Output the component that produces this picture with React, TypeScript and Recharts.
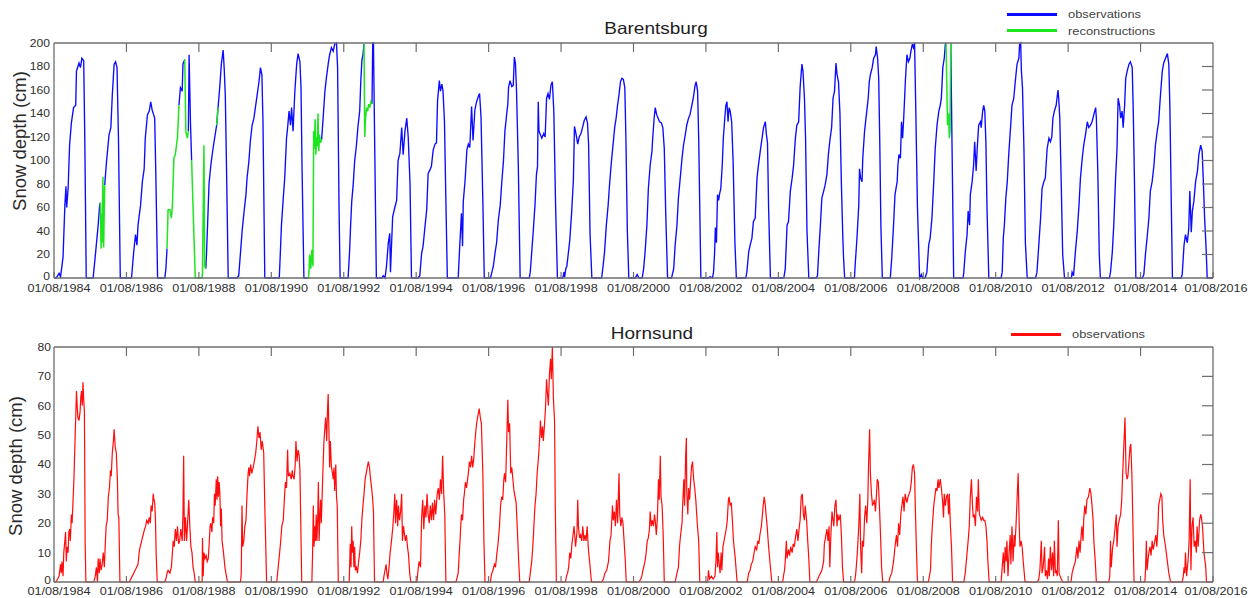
import { LineChart, Line, XAxis, YAxis } from 'recharts';

type Pt = [number, number | null];

// x = years since 01/08/1984
const tickYears = [0, 2, 4, 6, 8, 10, 12, 14, 16, 18, 20, 22, 24, 26, 28, 30, 32];
const tickLabels = [
  '01/08/1984', '01/08/1986', '01/08/1988', '01/08/1990', '01/08/1992', '01/08/1994',
  '01/08/1996', '01/08/1998', '01/08/2000', '01/08/2002', '01/08/2004', '01/08/2006',
  '01/08/2008', '01/08/2010', '01/08/2012', '01/08/2014', '01/08/2016',
];
const barentsburgTicks = [0, 20, 40, 60, 80, 100, 120, 140, 160, 180, 200];
const hornsundTicks = [0, 10, 20, 30, 40, 50, 60, 70, 80];

// snow depth (cm), null = gap in the observations
const barentsburgObs: Pt[] = [
  [0, 0], [0.06, 0], [0.14, 4], [0.18, 1], [0.21, 8], [0.25, 18], [0.3, 62], [0.33, 78], [0.35, 60], [0.39, 76], [0.43, 113], [0.48, 132], [0.54, 145], [0.6, 147], [0.62, 176], [0.69, 183], [0.73, 179], [0.77, 187], [0.82, 185], [0.85, 119], [0.89, 0],
  [1.05, 0], [1.08, 0], [1.15, 22], [1.22, 45], [1.26, 62], [1.28, 64], [1.34, null], [1.4, 79], [1.45, 99], [1.52, 122], [1.57, 128], [1.61, 156], [1.66, 182], [1.7, 184], [1.74, 179], [1.78, 119], [1.83, 0],
  [2.1, 0], [2.14, 0], [2.2, 22], [2.25, 37], [2.29, 28], [2.32, 45], [2.39, 62], [2.44, 82], [2.49, 93], [2.52, 119], [2.58, 139], [2.63, 142], [2.67, 150], [2.71, 143], [2.75, 139], [2.78, 136], [2.81, 91], [2.86, 0],
  [3.06, 0], [3.09, 8], [3.12, 25], [3.3, null], [3.45, 147], [3.49, 162], [3.54, 159], [3.56, 182], [3.61, 186], [3.66, null], [3.71, 125], [3.73, 190], [3.77, 130], [3.8, 100], [3.95, null],
  [4.19, 8], [4.21, 20], [4.24, 45], [4.28, 80], [4.33, 96], [4.39, 110], [4.44, 120], [4.49, 130], [4.53, 145], [4.58, 164], [4.62, 182], [4.67, 194], [4.7, 178], [4.73, 155], [4.76, 100], [4.81, 0],
  [5.05, 0], [5.1, 2], [5.15, 22], [5.2, 42], [5.25, 57], [5.3, 71], [5.33, 85], [5.38, 99], [5.42, 116], [5.47, 130], [5.52, 136], [5.56, 145], [5.61, 156], [5.66, 167], [5.7, 179], [5.74, 173], [5.77, 133], [5.82, 0],
  [6.1, 0], [6.22, 0], [6.25, 22], [6.28, 45], [6.33, 68], [6.37, 85], [6.42, 119], [6.45, 128], [6.49, 142], [6.53, 130], [6.56, 145], [6.6, 125], [6.65, 159], [6.7, 182], [6.74, 191], [6.79, 184], [6.82, 162], [6.85, 91], [6.9, 0], [7.0, 0], [7.1, null],
  [7.39, 118], [7.43, 136], [7.48, 159], [7.52, 170], [7.57, 182], [7.61, 190], [7.66, 196], [7.71, 193], [7.75, 199], [7.8, 200], [7.83, 179], [7.87, 60], [7.9, 0],
  [8.05, 0], [8.12, 0], [8.16, 22], [8.19, 45], [8.22, 65], [8.26, 79], [8.3, 99], [8.35, 113], [8.39, 128], [8.44, 142], [8.47, 167], [8.5, 185], [8.53, 190], [8.56, 199], [8.66, null], [8.78, 148], [8.8, 200], [8.82, 200], [8.86, 100], [8.9, 0],
  [9.05, 0], [9.09, 2], [9.14, 0], [9.18, 10], [9.23, 30], [9.27, 38], [9.29, 5], [9.35, 52], [9.41, 60], [9.46, 66], [9.5, 100], [9.55, 106], [9.6, 128], [9.64, 105], [9.69, 125], [9.74, 136], [9.78, 120], [9.83, 80], [9.87, 0],
  [10.05, 0], [10.1, 2], [10.15, 21], [10.19, 27], [10.24, 43], [10.29, 58], [10.33, 89], [10.38, 92], [10.42, 95], [10.47, 109], [10.52, 114], [10.56, 115], [10.59, 151], [10.64, 168], [10.67, 159], [10.71, 165], [10.74, 159], [10.78, 134], [10.82, 66], [10.86, 0],
  [11.1, 0], [11.16, 0], [11.2, 26], [11.25, 55], [11.28, 27], [11.3, 65], [11.35, 83], [11.4, 109], [11.44, 114], [11.48, 111], [11.53, 146], [11.57, 117], [11.62, 143], [11.66, 149], [11.71, 154], [11.75, 157], [11.79, 137], [11.84, 66], [11.88, 0],
  [12.05, 0], [12.09, 5], [12.13, 10], [12.18, 22], [12.22, 30], [12.27, 50], [12.32, 62], [12.36, 80], [12.41, 100], [12.45, 125], [12.5, 140], [12.53, 148], [12.55, 162], [12.59, 168], [12.64, 163], [12.68, 164], [12.71, 188], [12.74, 183], [12.77, 160], [12.82, 95], [12.87, 0],
  [13.05, 0], [13.12, 0], [13.15, 5], [13.19, 22], [13.23, 39], [13.28, 62], [13.32, 88], [13.35, 95], [13.37, 150], [13.39, 125], [13.43, 122], [13.47, 119], [13.52, 123], [13.56, 120], [13.6, 153], [13.64, 157], [13.68, 152], [13.72, 164], [13.76, 167], [13.8, 142], [13.85, 60], [13.9, 0],
  [14.05, 0], [14.08, 5], [14.1, 1], [14.13, 8], [14.16, 10], [14.2, 21], [14.24, 32], [14.29, 55], [14.34, 83], [14.37, 129], [14.41, 123], [14.46, 114], [14.5, 120], [14.55, 123], [14.6, 129], [14.64, 134], [14.69, 137], [14.73, 132], [14.76, 114], [14.8, 38], [14.85, 0],
  [15.05, 0], [15.12, 0], [15.16, 10], [15.2, 22], [15.25, 45], [15.3, 62], [15.34, 80], [15.39, 99], [15.44, 115], [15.48, 128], [15.52, 136], [15.56, 147], [15.6, 156], [15.64, 167], [15.68, 170], [15.72, 169], [15.76, 162], [15.79, 120], [15.83, 40], [15.87, 0],
  [16.05, 0], [16.1, 3], [16.15, 0], [16.24, 0], [16.28, 8], [16.32, 22], [16.37, 45], [16.41, 76], [16.46, 96], [16.51, 108], [16.53, 119], [16.57, 136], [16.6, 145], [16.64, 139], [16.68, 136], [16.72, 133], [16.77, 132], [16.81, 128], [16.85, 110], [16.89, 55], [16.94, 0],
  [17.05, 0], [17.11, 8], [17.15, 28], [17.2, 45], [17.24, 68], [17.29, 85], [17.34, 102], [17.38, 113], [17.43, 122], [17.47, 130], [17.52, 136], [17.56, 139], [17.61, 147], [17.65, 153], [17.7, 164], [17.73, 167], [17.77, 159], [17.8, 119], [17.86, 0],
  [18.05, 0], [18.12, 1], [18.18, 0], [18.21, 5], [18.24, 22], [18.26, 43], [18.29, 30], [18.32, 71], [18.35, 66], [18.38, 72], [18.41, 76], [18.45, 96], [18.48, 119], [18.52, 136], [18.55, 147], [18.58, 150], [18.61, 133], [18.64, 145], [18.67, 142], [18.71, 133], [18.75, 100], [18.8, 30], [18.84, 0],
  [19.05, 0], [19.1, 0], [19.13, 5], [19.18, 22], [19.22, 28], [19.27, 34], [19.31, 48], [19.36, 51], [19.41, 85], [19.45, 96], [19.5, 108], [19.55, 119], [19.59, 128], [19.64, 133], [19.67, 122], [19.7, 115], [19.73, 60], [19.78, 0],
  [20.05, 0], [20.15, 0], [20.19, 8], [20.24, 45], [20.28, 48], [20.33, 74], [20.38, 85], [20.42, 96], [20.47, 119], [20.51, 130], [20.56, 133], [20.6, 162], [20.65, 182], [20.68, 176], [20.72, 153], [20.75, 120], [20.79, 40], [20.84, 0],
  [21.05, 0], [21.08, 2], [21.12, 25], [21.16, 45], [21.2, 68], [21.25, 74], [21.29, 79], [21.34, 88], [21.38, 105], [21.43, 119], [21.47, 128], [21.51, 153], [21.55, 159], [21.59, 183], [21.62, 173], [21.66, 167], [21.7, 140], [21.74, 80], [21.78, 34], [21.8, 17], [21.83, 0],
  [22.05, 0], [22.1, 0], [22.12, 11], [22.17, 34], [22.22, 62], [22.24, 93], [22.27, 85], [22.31, 82], [22.33, 102], [22.38, 125], [22.43, 139], [22.48, 153], [22.51, 167], [22.54, 173], [22.59, 179], [22.63, 187], [22.68, 190], [22.7, 197], [22.74, 187], [22.77, 170], [22.8, 115], [22.83, 45], [22.87, 0],
  [23.05, 0], [23.09, 0], [23.13, 17], [23.18, 45], [23.22, 71], [23.28, 82], [23.3, 96], [23.33, 105], [23.37, 102], [23.4, 133], [23.43, 119], [23.46, 136], [23.51, 170], [23.55, 190], [23.59, 184], [23.63, 187], [23.66, 193], [23.7, 199], [23.73, 196], [23.76, 200], [23.79, 150], [23.84, 60], [23.9, 0], [23.95, 3], [23.98, 0],
  [24.05, 0], [24.1, 5], [24.15, 28], [24.19, 34], [24.24, 51], [24.29, 82], [24.33, 110], [24.38, 130], [24.43, 142], [24.47, 147], [24.5, 153], [24.54, 179], [24.58, 187], [24.61, 199], [24.63, 200], [24.7, null], [24.76, 200], [24.8, 100], [24.84, 0],
  [25.05, 0], [25.1, 0], [25.12, 5], [25.16, 22], [25.21, 37], [25.24, 57], [25.28, 45], [25.3, 71], [25.35, 82], [25.39, 96], [25.42, 116], [25.46, 91], [25.49, 110], [25.53, 130], [25.58, 133], [25.6, 128], [25.64, 142], [25.67, 147], [25.7, 142], [25.73, 115], [25.76, 60], [25.81, 0],
  [26.05, 0], [26.15, 0], [26.18, 5], [26.21, 34], [26.24, 45], [26.28, 68], [26.32, 82], [26.36, 105], [26.41, 128], [26.45, 147], [26.5, 153], [26.54, 167], [26.59, 182], [26.64, 187], [26.66, 199], [26.69, 200], [26.71, 176], [26.74, 162], [26.78, 110], [26.82, 30], [26.87, 0],
  [27.05, 0], [27.1, 0], [27.14, 5], [27.19, 28], [27.24, 51], [27.28, 76], [27.33, 82], [27.37, 85], [27.42, 110], [27.47, 119], [27.51, 116], [27.55, 120], [27.58, 136], [27.62, 142], [27.67, 147], [27.72, 160], [27.74, 153], [27.77, 136], [27.81, 80], [27.85, 20], [27.9, 0],
  [28.05, 0], [28.09, 0], [28.11, 5], [28.15, 2], [28.2, 22], [28.25, 39], [28.3, 62], [28.34, 85], [28.39, 102], [28.43, 113], [28.48, 122], [28.53, 133], [28.57, 128], [28.62, 130], [28.66, 133], [28.71, 139], [28.76, 145], [28.78, 136], [28.82, 90], [28.86, 20], [28.89, 0],
  [29.05, 0], [29.14, 0], [29.17, 5], [29.22, 22], [29.26, 45], [29.31, 85], [29.35, 110], [29.38, 153], [29.42, 147], [29.45, 136], [29.49, 142], [29.52, 128], [29.56, 147], [29.59, 170], [29.63, 176], [29.68, 182], [29.72, 184], [29.77, 179], [29.8, 140], [29.83, 85], [29.87, 0],
  [30.05, 0], [30.09, 3], [30.14, 22], [30.18, 34], [30.23, 51], [30.27, 74], [30.32, 82], [30.37, 96], [30.41, 113], [30.46, 125], [30.5, 133], [30.55, 156], [30.6, 176], [30.64, 183], [30.69, 187], [30.74, 191], [30.78, 182], [30.81, 145], [30.85, 60], [30.88, 0],
  [31.05, 0], [31.12, 0], [31.15, 3], [31.2, 28], [31.24, 37], [31.29, 30], [31.33, 42], [31.36, 74], [31.4, 39], [31.43, 57], [31.47, 65], [31.52, 82], [31.57, 91], [31.61, 105], [31.66, 113], [31.7, 108], [31.73, 85], [31.77, 50], [31.81, 25], [31.84, 0], [32, 0],
];

// gap-filling reconstructions, null separates the pieces
const barentsburgRec: Pt[] = [
  [1.28, 64], [1.3, 25], [1.32, 55], [1.33, 30], [1.35, 86], [1.36, 50], [1.37, 26], [1.4, 79], [1.5, null],
  [3.12, 25], [3.15, 58], [3.2, 58], [3.24, 51], [3.27, 62], [3.31, 102], [3.35, 105], [3.41, 120], [3.45, 147], [3.5, null],
  [3.61, 186], [3.64, 125], [3.68, 119], [3.71, 125], [3.72, null],
  [3.8, 100], [3.84, 60], [3.9, 0], [4.09, 0], [4.1, 5], [4.14, 113], [4.16, 10], [4.19, 8], [4.2, null],
  [4.49, 130], [4.53, 145], [4.55, null],
  [7.0, 0], [7.03, 0], [7.06, 20], [7.09, 8], [7.12, 24], [7.15, 10], [7.17, 125], [7.19, 110], [7.21, 135], [7.23, 105], [7.25, 120], [7.27, 112], [7.29, 140], [7.31, 108], [7.33, 122], [7.36, 115], [7.39, 118], [7.5, null],
  [8.56, 199], [8.58, 120], [8.6, 135], [8.63, 145], [8.66, 142], [8.69, 148], [8.72, 145], [8.75, 150], [8.78, 148], [8.79, null],
  [24.63, 200], [24.65, 165], [24.67, 130], [24.7, 140], [24.72, 119], [24.74, 125], [24.76, 200],
];

const hornsundObs: Pt[] = [
  [0, 0], [0.05, 0], [0.1, 1], [0.14, 2], [0.18, 6], [0.2, 3], [0.22, 7], [0.25, 2], [0.27, 10], [0.3, 14], [0.32, 17], [0.34, 7], [0.36, 12], [0.39, 10], [0.41, 17], [0.43, 18], [0.45, 14], [0.48, 23], [0.5, 20], [0.53, 29], [0.55, 35], [0.58, 48], [0.6, 56], [0.62, 65], [0.64, 60], [0.66, 56], [0.69, 55], [0.72, 58], [0.74, 63], [0.76, 65], [0.78, 60], [0.8, 68], [0.82, 62], [0.84, 58], [0.86, 14], [0.88, 0],
  [1.1, 0], [1.14, 2], [1.17, 5], [1.2, 0], [1.22, 8], [1.25, 3], [1.27, 8], [1.3, 4], [1.33, 6], [1.36, 10], [1.39, 5], [1.42, 14], [1.44, 19], [1.47, 21], [1.5, 29], [1.53, 32], [1.56, 38], [1.58, 36], [1.61, 44], [1.64, 48], [1.66, 52], [1.69, 46], [1.72, 44], [1.75, 35], [1.77, 23], [1.79, 22], [1.82, 0],
  [2.08, 0], [2.12, 1], [2.16, 2], [2.2, 3], [2.24, 4], [2.28, 5], [2.32, 6], [2.35, 10], [2.38, 12], [2.42, 14], [2.46, 16], [2.5, 18], [2.53, 19], [2.56, 21], [2.6, 20], [2.63, 22], [2.66, 20], [2.68, 26], [2.71, 24], [2.74, 30], [2.76, 28], [2.78, 27], [2.8, 22], [2.82, 10], [2.85, 0],
  [3.05, 0], [3.09, 1], [3.12, 3], [3.15, 4], [3.2, 3], [3.24, 5], [3.27, 10], [3.29, 14], [3.32, 12], [3.35, 18], [3.38, 14], [3.41, 19], [3.44, 13], [3.47, 14], [3.5, 18], [3.54, 14], [3.56, 23], [3.58, 43], [3.6, 14], [3.63, 22], [3.66, 14], [3.68, 18], [3.72, 28], [3.75, 19], [3.78, 12], [3.81, 10], [3.84, 5], [3.87, 3], [3.9, 0],
  [4.09, 0], [4.1, 15], [4.12, 2], [4.14, 10], [4.17, 8], [4.2, 9], [4.23, 7], [4.26, 8], [4.28, 12], [4.31, 19], [4.33, 20], [4.36, 17], [4.38, 22], [4.41, 20], [4.43, 30], [4.45, 26], [4.48, 35], [4.5, 28], [4.52, 36], [4.54, 29], [4.56, 34], [4.58, 30], [4.6, 19], [4.62, 25], [4.64, 14], [4.68, 10], [4.72, 5], [4.76, 2], [4.79, 0],
  [5.15, 0], [5.17, 3], [5.19, 26], [5.21, 12], [5.24, 14], [5.27, 19], [5.3, 21], [5.33, 30], [5.36, 37], [5.38, 39], [5.4, 36], [5.43, 40], [5.46, 37], [5.5, 39], [5.53, 41], [5.57, 44], [5.6, 48], [5.63, 53], [5.66, 49], [5.69, 51], [5.72, 45], [5.75, 48], [5.79, 44], [5.82, 26], [5.87, 0],
  [6.15, 0], [6.19, 5], [6.23, 10], [6.26, 14], [6.29, 19], [6.33, 21], [6.36, 28], [6.39, 34], [6.42, 32], [6.45, 45], [6.47, 36], [6.51, 37], [6.55, 35], [6.58, 38], [6.6, 36], [6.63, 35], [6.66, 40], [6.68, 48], [6.71, 41], [6.74, 45], [6.77, 43], [6.79, 38], [6.81, 23], [6.84, 0],
  [7.12, 0], [7.14, 10], [7.16, 26], [7.18, 12], [7.2, 19], [7.22, 14], [7.24, 23], [7.26, 14], [7.28, 21], [7.3, 34], [7.32, 14], [7.34, 22], [7.36, 28], [7.38, 20], [7.42, 36], [7.45, 47], [7.47, 51], [7.5, 56], [7.53, 48], [7.55, 58], [7.57, 64], [7.59, 52], [7.61, 39], [7.63, 48], [7.66, 39], [7.69, 37], [7.71, 35], [7.73, 39], [7.75, 31], [7.78, 40], [7.8, 29], [7.82, 26], [7.85, 0],
  [8.15, 0], [8.18, 13], [8.2, 5], [8.22, 19], [8.24, 10], [8.26, 14], [8.28, 5], [8.3, 12], [8.32, 4], [8.35, 5], [8.38, 3], [8.41, 7], [8.44, 10], [8.47, 14], [8.5, 21], [8.53, 26], [8.56, 30], [8.59, 35], [8.62, 37], [8.65, 39], [8.68, 41], [8.71, 39], [8.74, 35], [8.77, 32], [8.8, 28], [8.82, 24], [8.85, 0],
  [9.09, 0], [9.11, 2], [9.14, 4], [9.17, 6], [9.19, 3], [9.22, 1], [9.25, 5], [9.28, 10], [9.31, 13], [9.35, 18], [9.38, 23], [9.41, 30], [9.43, 20], [9.46, 28], [9.49, 19], [9.51, 26], [9.54, 21], [9.57, 24], [9.6, 30], [9.62, 14], [9.65, 19], [9.68, 16], [9.7, 14], [9.73, 16], [9.76, 12], [9.79, 9], [9.82, 3], [9.85, 0],
  [10.02, 0], [10.05, 4], [10.08, 7], [10.12, 5], [10.15, 22], [10.18, 28], [10.21, 18], [10.24, 26], [10.27, 22], [10.3, 30], [10.33, 23], [10.36, 20], [10.39, 26], [10.42, 21], [10.45, 27], [10.48, 21], [10.51, 28], [10.54, 23], [10.58, 30], [10.61, 32], [10.64, 28], [10.67, 35], [10.7, 30], [10.73, 43], [10.76, 30], [10.79, 23], [10.82, 0],
  [11.1, 0], [11.12, 1], [11.16, 3], [11.19, 10], [11.21, 14], [11.23, 19], [11.25, 23], [11.28, 21], [11.31, 28], [11.33, 30], [11.36, 34], [11.39, 32], [11.42, 35], [11.44, 37], [11.47, 41], [11.5, 39], [11.53, 43], [11.56, 39], [11.59, 42], [11.61, 46], [11.63, 49], [11.66, 53], [11.68, 55], [11.71, 57], [11.74, 59], [11.77, 56], [11.8, 54], [11.84, 37], [11.87, 14], [11.9, 0],
  [12.05, 0], [12.07, 2], [12.09, 3], [12.12, 4], [12.16, 6], [12.19, 5], [12.23, 10], [12.26, 13], [12.3, 19], [12.33, 26], [12.36, 29], [12.39, 28], [12.42, 35], [12.44, 37], [12.47, 34], [12.5, 48], [12.53, 62], [12.55, 51], [12.58, 54], [12.61, 37], [12.64, 39], [12.67, 35], [12.7, 31], [12.73, 29], [12.76, 27], [12.8, 16], [12.83, 7], [12.86, 0],
  [13.12, 0], [13.15, 3], [13.19, 7], [13.22, 12], [13.25, 19], [13.28, 26], [13.31, 30], [13.34, 37], [13.38, 43], [13.41, 49], [13.43, 55], [13.46, 49], [13.49, 53], [13.51, 48], [13.54, 53], [13.57, 59], [13.6, 69], [13.62, 65], [13.65, 60], [13.68, 71], [13.71, 76], [13.73, 69], [13.76, 80], [13.79, 62], [13.82, 55], [13.84, 26], [13.87, 0],
  [14.12, 0], [14.15, 2], [14.18, 3], [14.21, 5], [14.24, 10], [14.27, 8], [14.3, 13], [14.33, 16], [14.36, 19], [14.4, 12], [14.44, 17], [14.46, 28], [14.48, 19], [14.51, 15], [14.54, 16], [14.57, 14], [14.6, 19], [14.63, 14], [14.66, 16], [14.69, 14], [14.72, 19], [14.75, 12], [14.78, 8], [14.81, 4], [14.84, 0],
  [15.12, 0], [15.17, 1], [15.21, 3], [15.26, 4], [15.31, 7], [15.35, 14], [15.38, 16], [15.42, 26], [15.44, 21], [15.47, 24], [15.5, 19], [15.53, 28], [15.56, 20], [15.6, 37], [15.62, 23], [15.65, 19], [15.68, 22], [15.71, 20], [15.74, 14], [15.77, 8], [15.8, 0],
  [16.15, 0], [16.2, 1], [16.23, 2], [16.26, 4], [16.3, 6], [16.33, 8], [16.35, 10], [16.38, 14], [16.41, 15], [16.44, 18], [16.46, 24], [16.49, 19], [16.52, 21], [16.55, 19], [16.58, 23], [16.6, 21], [16.63, 16], [16.66, 22], [16.69, 35], [16.71, 28], [16.74, 43], [16.76, 29], [16.79, 26], [16.82, 16], [16.85, 0],
  [17.15, 0], [17.2, 3], [17.24, 5], [17.27, 12], [17.3, 16], [17.34, 20], [17.36, 27], [17.39, 35], [17.41, 26], [17.44, 43], [17.46, 49], [17.47, 31], [17.5, 23], [17.52, 32], [17.55, 28], [17.58, 35], [17.6, 39], [17.63, 41], [17.66, 35], [17.69, 32], [17.72, 28], [17.76, 20], [17.8, 14], [17.83, 0],
  [18.05, 0], [18.07, 4], [18.1, 1], [18.15, 2], [18.2, 1], [18.25, 2], [18.28, 8], [18.3, 17], [18.32, 5], [18.34, 10], [18.36, 7], [18.39, 3], [18.42, 10], [18.44, 4], [18.47, 12], [18.5, 14], [18.53, 16], [18.56, 18], [18.59, 21], [18.62, 28], [18.64, 29], [18.67, 26], [18.7, 27], [18.73, 21], [18.76, 14], [18.81, 8], [18.86, 0],
  [19.14, 0], [19.18, 3], [19.22, 4], [19.25, 6], [19.29, 7], [19.33, 10], [19.36, 12], [19.4, 11], [19.43, 14], [19.46, 13], [19.49, 16], [19.53, 19], [19.56, 23], [19.58, 26], [19.61, 29], [19.64, 26], [19.66, 23], [19.69, 19], [19.73, 12], [19.78, 5], [19.82, 0],
  [20.12, 0], [20.14, 2], [20.17, 4], [20.19, 7], [20.22, 14], [20.24, 8], [20.28, 11], [20.31, 9], [20.34, 12], [20.38, 10], [20.41, 13], [20.44, 12], [20.47, 15], [20.51, 18], [20.54, 14], [20.58, 19], [20.6, 21], [20.63, 29], [20.66, 30], [20.69, 23], [20.72, 21], [20.74, 26], [20.78, 21], [20.81, 14], [20.84, 8], [20.87, 0],
  [21.05, 0], [21.09, 1], [21.12, 2], [21.16, 3], [21.2, 4], [21.25, 7], [21.27, 13], [21.3, 15], [21.34, 18], [21.37, 14], [21.4, 19], [21.42, 5], [21.45, 16], [21.48, 24], [21.5, 22], [21.53, 19], [21.56, 26], [21.59, 28], [21.62, 19], [21.64, 23], [21.67, 21], [21.71, 23], [21.74, 16], [21.77, 5], [21.8, 0],
  [22.1, 0], [22.13, 2], [22.15, 5], [22.18, 10], [22.22, 19], [22.25, 30], [22.27, 12], [22.3, 3], [22.32, 14], [22.35, 12], [22.38, 22], [22.41, 26], [22.44, 20], [22.47, 28], [22.49, 40], [22.52, 52], [22.54, 37], [22.57, 30], [22.6, 26], [22.63, 27], [22.65, 28], [22.68, 24], [22.71, 30], [22.73, 35], [22.76, 34], [22.79, 26], [22.82, 16], [22.85, 5], [22.88, 0],
  [23.05, 0], [23.09, 2], [23.13, 3], [23.18, 7], [23.22, 12], [23.26, 16], [23.29, 12], [23.32, 20], [23.35, 16], [23.38, 23], [23.41, 26], [23.44, 29], [23.47, 24], [23.5, 30], [23.53, 28], [23.55, 27], [23.58, 29], [23.61, 30], [23.64, 31], [23.67, 34], [23.7, 39], [23.73, 40], [23.76, 37], [23.78, 26], [23.81, 12], [23.84, 0],
  [24.14, 0], [24.17, 2], [24.2, 4], [24.22, 12], [24.25, 19], [24.29, 26], [24.32, 29], [24.35, 32], [24.38, 31], [24.41, 35], [24.43, 32], [24.47, 35], [24.5, 32], [24.53, 28], [24.56, 22], [24.58, 30], [24.61, 26], [24.64, 29], [24.67, 30], [24.7, 23], [24.72, 30], [24.75, 19], [24.78, 12], [24.81, 0],
  [25.12, 0], [25.16, 3], [25.21, 10], [25.24, 14], [25.27, 19], [25.3, 29], [25.33, 35], [25.36, 26], [25.38, 22], [25.41, 23], [25.44, 19], [25.47, 29], [25.5, 24], [25.52, 35], [25.55, 23], [25.58, 22], [25.6, 21], [25.64, 22], [25.67, 21], [25.7, 21], [25.73, 19], [25.76, 14], [25.78, 8], [25.82, 0],
  [26.15, 0], [26.18, 5], [26.21, 10], [26.24, 3], [26.26, 12], [26.29, 7], [26.31, 14], [26.34, 2], [26.37, 10], [26.4, 16], [26.42, 6], [26.45, 19], [26.48, 7], [26.51, 16], [26.53, 12], [26.56, 19], [26.59, 28], [26.62, 37], [26.65, 19], [26.67, 12], [26.7, 14], [26.73, 12], [26.76, 7], [26.79, 3], [26.81, 0],
  [27.15, 0], [27.19, 1], [27.22, 4], [27.26, 14], [27.28, 3], [27.31, 5], [27.35, 12], [27.37, 2], [27.4, 4], [27.43, 1], [27.46, 8], [27.48, 2], [27.51, 12], [27.54, 4], [27.57, 10], [27.6, 2], [27.62, 14], [27.65, 3], [27.67, 4], [27.7, 2], [27.73, 21], [27.75, 3], [27.78, 2], [27.81, 1], [27.85, 0],
  [28.08, 0], [28.11, 3], [28.15, 5], [28.2, 7], [28.24, 12], [28.27, 8], [28.3, 14], [28.33, 10], [28.36, 16], [28.38, 19], [28.41, 14], [28.43, 21], [28.46, 26], [28.49, 23], [28.52, 28], [28.56, 29], [28.6, 32], [28.63, 30], [28.66, 26], [28.69, 21], [28.71, 14], [28.75, 7], [28.78, 0],
  [29.12, 0], [29.15, 2], [29.17, 14], [29.19, 5], [29.23, 12], [29.26, 14], [29.3, 19], [29.33, 23], [29.35, 12], [29.38, 19], [29.41, 21], [29.45, 23], [29.48, 28], [29.5, 35], [29.54, 47], [29.57, 56], [29.6, 37], [29.63, 35], [29.65, 36], [29.68, 41], [29.71, 46], [29.73, 47], [29.76, 37], [29.79, 19], [29.82, 0],
  [30.12, 0], [30.14, 5], [30.16, 14], [30.18, 4], [30.21, 8], [30.23, 10], [30.26, 12], [30.29, 9], [30.32, 14], [30.35, 11], [30.38, 13], [30.42, 16], [30.45, 12], [30.48, 19], [30.5, 26], [30.53, 28], [30.56, 30], [30.59, 29], [30.61, 21], [30.64, 16], [30.69, 12], [30.74, 7], [30.78, 3], [30.83, 0],
  [31.15, 0], [31.18, 2], [31.2, 5], [31.22, 3], [31.24, 10], [31.27, 2], [31.31, 7], [31.34, 14], [31.37, 35], [31.39, 4], [31.42, 19], [31.45, 22], [31.48, 12], [31.51, 14], [31.54, 10], [31.56, 19], [31.59, 12], [31.63, 21], [31.66, 23], [31.68, 22], [31.71, 19], [31.75, 10], [31.8, 5], [31.82, 0], [32, 0],
];

const FONT = '"Liberation Sans", Arial, Helvetica, sans-serif';
const AXIS = '#6e6e6e';
const INK = '#2e2e2e';
const STRETCH = 1.17; // the source picture is a little wider than tall

const toRows = (pts: Pt[]) => pts.map(([t, v]) => ({ t, v }));

function XLabelTick(props: any) {
  const { x, y, payload, dy } = props;
  const i = tickYears.indexOf(payload.value);
  // last label sits against the right edge, pull it in a little
  const shift = i === tickYears.length - 1 ? 3 : 5;
  return (
    <g>
      <line x1={x} x2={x} y1={y} y2={y - 6} stroke={AXIS} strokeWidth={1.2} />
      <text
        transform={`translate(${x + shift},${y + dy}) scale(${STRETCH},1)`}
        textAnchor="middle"
        fontSize={10.8}
        fill={INK}
        fontFamily={FONT}
      >
        {tickLabels[i]}
      </text>
    </g>
  );
}

function TopTick(props: any) {
  const { x, y } = props;
  return <line x1={x} x2={x} y1={y} y2={y + 9} stroke={AXIS} strokeWidth={1.2} />;
}

function RightTick(props: any) {
  const { x, y } = props;
  return <line x1={x} x2={x - 11} y1={y} y2={y} stroke={AXIS} strokeWidth={1.2} />;
}

function YLabelTick(props: any) {
  const { x, y, payload } = props;
  // the zero label is lifted a touch so it clears the first date label
  const lift = payload.value === 0 ? 2 : 0;
  return (
    <text
      transform={`translate(${x},${y - lift}) scale(1.12,1)`}
      dy="0.36em"
      textAnchor="end"
      fontSize={10.8}
      fill={INK}
      fontFamily={FONT}
    >
      {payload.value}
    </text>
  );
}

interface PanelProps {
  height: number;
  marginTop: number;
  xAxisHeight: number;
  labelDy: number;
  yTicks: number[];
  yTickMargin: number;
  children: React.ReactNode;
}

function SnowPanel({ height, marginTop, xAxisHeight, labelDy, yTicks, yTickMargin, children }: PanelProps) {
  const yMax = yTicks[yTicks.length - 1];
  const axisLine = { stroke: AXIS, strokeWidth: 1.3 };
  return (
    <LineChart width={1240} height={height} margin={{ top: marginTop, right: 34, bottom: 0, left: 0 }}>
      <XAxis
        dataKey="t"
        type="number"
        domain={[0, 32]}
        ticks={tickYears}
        interval={0}
        height={xAxisHeight}
        tickSize={0}
        tickMargin={0}
        tickLine={false}
        axisLine={axisLine}
        tick={(p: any) => <XLabelTick {...p} dy={labelDy} />}
      />
      <XAxis
        xAxisId="top"
        orientation="top"
        dataKey="t"
        type="number"
        domain={[0, 32]}
        allowDataOverflow
        ticks={tickYears.slice(1, -1)}
        interval={0}
        height={1}
        tickSize={0}
        tickMargin={0}
        tickLine={false}
        axisLine={axisLine}
        tick={(p: any) => <TopTick {...p} />}
      />
      <YAxis
        type="number"
        domain={[0, yMax]}
        ticks={yTicks}
        interval={0}
        width={46}
        tickSize={0}
        tickMargin={yTickMargin}
        tickLine={false}
        axisLine={axisLine}
        tick={(p: any) => <YLabelTick {...p} />}
      />
      <YAxis
        yAxisId="right"
        orientation="right"
        type="number"
        domain={[0, yMax]}
        allowDataOverflow
        ticks={yTicks.slice(1, -1)}
        interval={0}
        width={1}
        tickSize={0}
        tickMargin={0}
        tickLine={false}
        axisLine={axisLine}
        tick={(p: any) => <RightTick {...p} />}
      />
      {children}
    </LineChart>
  );
}

function LegendRow({ left, top, color, label }: { left: number; top: number; color: string; label: string }) {
  return (
    <div style={{ position: 'absolute', left, top, display: 'flex', alignItems: 'center', height: 14 }}>
      <span style={{ display: 'inline-block', width: 50, height: 3, background: color }} />
      <span
        style={{
          display: 'inline-block',
          marginLeft: 11,
          fontSize: 11,
          lineHeight: '14px',
          color: '#444',
          whiteSpace: 'nowrap',
          transform: `scaleX(${STRETCH})`,
          transformOrigin: 'left center',
        }}
      >
        {label}
      </span>
    </div>
  );
}

function Title({ x, y, text }: { x: number; y: number; text: string }) {
  return (
    <div
      style={{
        position: 'absolute',
        left: x,
        top: y,
        fontSize: 16.5,
        lineHeight: 1,
        color: '#1e1e1e',
        whiteSpace: 'nowrap',
        transform: `translate(-50%, -50%) scaleX(1.15)`,
      }}
    >
      {text}
    </div>
  );
}

function AxisTitle({ x, y }: { x: number; y: number }) {
  return (
    <div
      style={{
        position: 'absolute',
        left: x,
        top: y,
        fontSize: 18.5,
        lineHeight: 1,
        color: '#2a2a2a',
        whiteSpace: 'nowrap',
        transform: 'translate(-50%, -50%) rotate(-90deg)',
      }}
    >
      Snow depth (cm)
    </div>
  );
}

export default function App() {
  return (
    <div style={{ position: 'relative', width: 1240, height: 588, fontFamily: FONT }}>
      <div style={{ position: 'absolute', left: 0, top: 0 }}>
        <SnowPanel height={300} marginTop={34} xAxisHeight={30} labelDy={14} yTicks={barentsburgTicks} yTickMargin={4}>
          <Line
            data={toRows(barentsburgObs)}
            dataKey="v"
            type="linear"
            stroke="#0b0bff"
            strokeWidth={1.35}
            dot={false}
            activeDot={false}
            connectNulls={false}
            isAnimationActive={false}
          />
          <Line
            data={toRows(barentsburgRec)}
            dataKey="v"
            type="linear"
            stroke="#1ee61e"
            strokeWidth={1.5}
            dot={false}
            activeDot={false}
            connectNulls={false}
            isAnimationActive={false}
          />
        </SnowPanel>
      </div>
      <div style={{ position: 'absolute', left: 0, top: 300 }}>
        <SnowPanel height={288} marginTop={38} xAxisHeight={14} labelDy={12.6} yTicks={hornsundTicks} yTickMargin={3}>
          <Line
            data={toRows(hornsundObs)}
            dataKey="v"
            type="linear"
            stroke="#ff0c0c"
            strokeWidth={1.2}
            dot={false}
            activeDot={false}
            isAnimationActive={false}
          />
        </SnowPanel>
      </div>

      <Title x={648} y={20} text="Barentsburg" />
      <Title x={644} y={325} text="Hornsund" />
      <AxisTitle x={12} y={132.5} />
      <AxisTitle x={7.5} y={457.5} />
      <LegendRow left={999} top={-1} color="#0b0bff" label="observations" />
      <LegendRow left={999} top={15.5} color="#1ee61e" label="reconstructions" />
      <LegendRow left={1003} top={319} color="#ff0c0c" label="observations" />
    </div>
  );
}
